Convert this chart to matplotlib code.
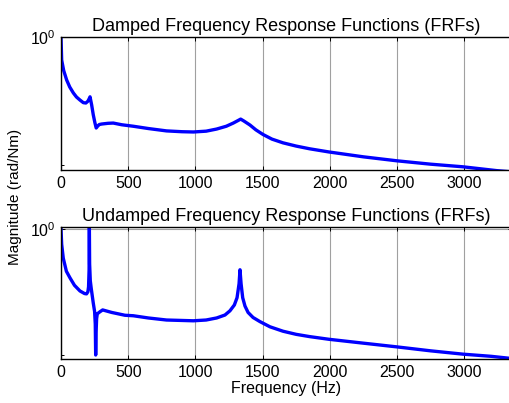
import numpy as np
import matplotlib
matplotlib.use("Agg")
import matplotlib.pyplot as plt

plt.rcParams['font.family'] = ['Liberation Sans', 'DejaVu Sans']
plt.rcParams['mathtext.fontset'] = 'custom'
plt.rcParams['mathtext.rm'] = 'Liberation Sans'

# datos (Hz, rad/Nm)
damped_freq = [0, 5, 20, 42, 65, 92, 115, 141, 166, 185, 200, 210, 216, 228, 240, 252, 262,
               272, 285, 303, 350, 389, 452, 538, 650, 785, 900, 985, 1080, 1158, 1230,
               1282, 1315, 1337, 1360, 1406, 1450, 1503, 1570, 1652, 1750, 1850, 1994,
               2250, 2500, 2750, 2991, 3244, 3356]
damped_mag = [1.0, 0.72, 0.62, 0.542, 0.49, 0.45, 0.425, 0.407, 0.392, 0.39, 0.40, 0.415,
              0.426, 0.38, 0.33, 0.295, 0.273, 0.28, 0.287, 0.289, 0.292, 0.293, 0.286,
              0.280, 0.271, 0.262, 0.259, 0.258, 0.261, 0.269, 0.280, 0.293, 0.303,
              0.310, 0.302, 0.285, 0.266, 0.249, 0.233, 0.221, 0.211, 0.203, 0.194,
              0.181, 0.171, 0.163, 0.157, 0.1486, 0.146]

undamped_freq = [0, 5, 17, 40, 67, 100, 141, 175, 190, 200, 205, 209, 211, 213, 218, 225,
                 240, 250, 255, 258, 261, 265, 270, 290, 310, 377, 476, 538, 650, 785, 985,
                 1080, 1158, 1220, 1257, 1290, 1310, 1325, 1332, 1340, 1352, 1369, 1392,
                 1429, 1480, 1555, 1652, 1750, 1850, 1994, 2250, 2500, 2750, 2991, 3200,
                 3356]
undamped_mag = [1.0, 0.80, 0.653, 0.54, 0.49, 0.44, 0.405, 0.39, 0.388, 0.40, 0.43, 0.55,
                1.05, 0.60, 0.47, 0.42, 0.34, 0.30, 0.25, 0.159, 0.22, 0.27, 0.29, 0.299,
                0.307, 0.296, 0.284, 0.282, 0.273, 0.265, 0.262, 0.265, 0.273, 0.285,
                0.303, 0.33, 0.367, 0.45, 0.552, 0.45, 0.367, 0.325, 0.296, 0.275, 0.259,
                0.240, 0.225, 0.215, 0.208, 0.200, 0.189, 0.179, 0.169, 0.161, 0.156,
                0.151]

titles = ['Damped Frequency Response Functions (FRFs)',
          'Undamped Frequency Response Functions (FRFs)']
xticks = [0, 500, 1000, 1500, 2000, 2500, 3000]

W, H = 510, 403
fig = plt.figure(figsize=(W / 100, H / 100), dpi=100)
ax1 = fig.add_axes([61 / W, 1 - 170 / H, 451 / W, 133 / H])
ax2 = fig.add_axes([61 / W, 1 - 359 / H, 451 / W, 132 / H])

for ax, f, m, t, top in [(ax1, damped_freq, damped_mag, titles[0], 1.0),
                         (ax2, undamped_freq, undamped_mag, titles[1], 1.03)]:
    ax.set_yscale('log')
    ax.plot(f, m, color='#0000ff', lw=2.4, solid_joinstyle='round')
    ax.set_xlim(0, 3356)
    ax.set_ylim(0.15, top)
    ax.set_xticks(xticks)
    ax.set_yticks([1.0])
    ax.set_yticklabels(['$10^0$'])
    ax.set_yticks([0.16], minor=True)
    ax.yaxis.set_minor_formatter(matplotlib.ticker.NullFormatter())
    ax.grid(True, axis='x', color='#a0a0a0', lw=0.8)
    ax.axhline(1.0, color='#a0a0a0', lw=0.8, zorder=0.5)
    ax.tick_params(direction='in', length=3, width=0.7, top=True, right=True,
                   labelsize=11.5, pad=4)
    ax.tick_params(which='minor', direction='in', length=2, width=0.7, right=True)
    for s in ax.spines.values():
        s.set_linewidth(1.0)
    ax.set_title(t, fontsize=13, pad=4)

ax2.set_xlabel('Frequency (Hz)', fontsize=11.5, labelpad=1)
fig.text(15 / W, 1 - 197 / H, 'Magnitude (rad/Nm)', rotation=90, fontsize=11,
         ha='center', va='center')

fig.savefig('out.png', dpi=100)
